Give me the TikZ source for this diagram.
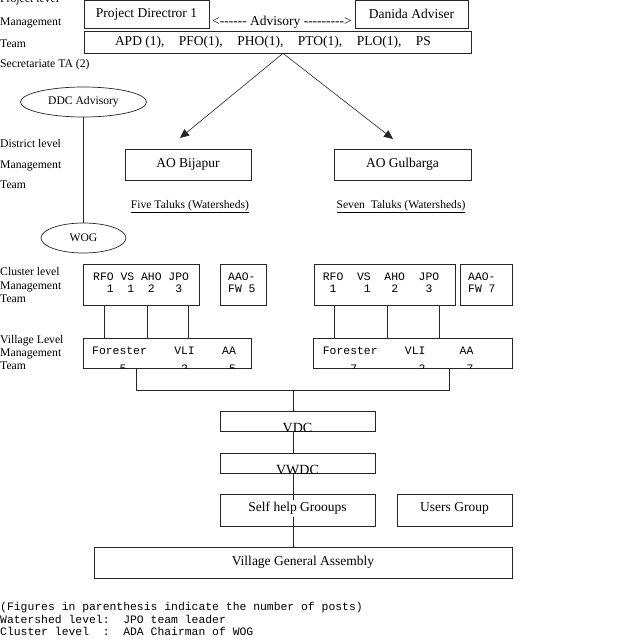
\documentclass[tikz,border=0pt]{standalone}
\usepackage{fontspec}
\setmainfont{Liberation Serif}
\newfontfamily\monofam{Liberation Mono}
\usetikzlibrary{arrows.meta,shapes.geometric}
\begin{document}
\begin{tikzpicture}[x=1pt,y=-1pt,
  box/.style={draw=black!85, line width=0.7pt, inner sep=0pt, font=\fontsize{13.5}{15}\selectfont},
  oval/.style={draw=black!85, line width=0.7pt, ellipse, inner sep=0pt, font=\fontsize{11.6}{13}\selectfont},
  lbl/.style={anchor=base west, inner sep=0pt, font=\fontsize{11.7}{13}\selectfont},
  mono/.style={anchor=base west, inner sep=0pt, font=\monofam\fontsize{11.4}{12.5}\selectfont\frenchspacing},
  btext/.style={anchor=base, inner sep=0pt, font=\fontsize{14}{16}\selectfont},
  conn/.style={draw=black!85, line width=0.7pt},
  arr/.style={draw=black!85, line width=0.6pt, -{Triangle[length=9pt,width=8pt]}},
]
\useasboundingbox (0,0) rectangle (640,640);
\fill[white] (0,0) rectangle (640,640);

% left level labels
\node[lbl] (l1) at (0,2.5) {Project level};
\node[lbl] (l2) at (0,25) {Management};
\node[lbl] (l3) at (0,47) {Team};
\node[lbl] (l4) at (0,67) {Secretariate TA (2)};
\node[lbl] (d1) at (0,147.5) {District level};
\node[lbl] (d2) at (0,168.5) {Management};
\node[lbl] (d3) at (0,188.5) {Team};
\node[lbl] (c1) at (0,275) {Cluster level};
\node[lbl] (c2) at (0,289) {Management};
\node[lbl] (c3) at (0,302) {Team};
\node[lbl] (v1) at (0,343) {Village Level};
\node[lbl] (v2) at (0,356.5) {Management};
\node[lbl] (v3) at (0,369) {Team};

% project level
\node[box, minimum width=125pt, minimum height=27.5pt] (pd) at (146.5,14.25) {Project Directror 1};
\node[box, minimum width=113pt, minimum height=27.5pt] (dan) at (411.5,14.25) {Danida Adviser};
\node[inner sep=0pt, font=\fontsize{13.5}{15}\selectfont] (adv) at (282,22) {<-{}-{}-{}-{}-{}- Advisory -{}-{}-{}-{}-{}-{}-{}-{}->};
\node[box, minimum width=387pt, minimum height=22pt] (team) at (277.5,42)
  {\makebox[316pt]{APD (1),\hfill PFO(1),\hfill PHO(1),\hfill PTO(1),\hfill PLO(1),\hfill PS}\hspace*{9pt}};

% arrows to district level
\coordinate (apex) at (283,0);
\coordinate (tipL) at (180,138);
\coordinate (tipR) at (393,139);
\draw[arr] (team.south -| apex) -- (tipL);
\draw[arr] (team.south -| apex) -- (tipR);

% ellipses
\node[oval, minimum width=126pt, minimum height=30pt] (ddc) at (83.5,102) {DDC Advisory};
\node[oval, minimum width=85pt, minimum height=30pt] (wog) at (83.5,238) {WOG};
\draw[conn] (ddc.south) -- (wog.north);

% district boxes
\node[box, minimum width=126pt, minimum height=31pt] (aob) at (188,164.5) {AO Bijapur};
\node[box, minimum width=137pt, minimum height=31pt] (aog) at (402.5,164.5) {AO Gulbarga};
\node[anchor=base, inner sep=0pt, font=\fontsize{11.6}{13}\selectfont] (five) at (190,208) {\underline{Five Taluks (Watersheds)}};
\node[anchor=base, inner sep=0pt, font=\fontsize{11.6}{13}\selectfont] (seven) at (401,208) {\underline{Seven\ \ Taluks (Watersheds)}};

% cluster boxes
\node[box, minimum width=116pt, minimum height=41pt] (cl1) at (141,284.5) {};
\node[mono] (cl1a) at (93,280.5) {RFO~VS~AHO~JPO};
\node[mono] (cl1b) at (93,292.5) {~~1~~1~~2~~~3};
\node[box, minimum width=46pt, minimum height=41pt] (aao5) at (243,284.5) {};
\node[mono] (aao5a) at (228,280.5) {AAO-};
\node[mono] (aao5b) at (228,292.5) {FW~5};
\node[box, minimum width=141pt, minimum height=41pt] (cl2) at (384.5,284.5) {};
\node[mono] (cl2a) at (322.7,280.5) {RFO~~VS~~AHO~~JPO};
\node[mono] (cl2b) at (322.7,292.5) {~1~~~~1~~~2~~~~3};
\node[box, minimum width=52pt, minimum height=41pt] (aao7) at (486,284.5) {};
\node[mono] (aao7a) at (468,280.5) {AAO-};
\node[mono] (aao7b) at (468,292.5) {FW~7};

% village level boxes
\node[box, minimum width=168pt, minimum height=30pt] (vl1) at (167,353) {};
\node[box, minimum width=199pt, minimum height=30pt] (vl2) at (412.5,353) {};
\begin{scope}
  \clip (vl1.south west) rectangle (vl1.north east);
  \node[mono] (vl1a) at (92,354.5) {Forester~~~~VLI~~~~AA};
  \node[mono] (vl1b) at (92,372.5) {~~~~5~~~~~~~~2~~~~~~5};
\end{scope}
\begin{scope}
  \clip (vl2.south west) rectangle (vl2.north east);
  \node[mono] (vl2a) at (322.7,354.5) {Forester~~~~VLI~~~~~AA};
  \node[mono] (vl2b) at (322.7,372.5) {~~~~7~~~~~~~~~2~~~~~~7};
\end{scope}

% cluster -> village connectors
\coordinate (k1) at (104,0);
\coordinate (k2) at (147,0);
\coordinate (k3) at (188,0);
\coordinate (k4) at (334,0);
\coordinate (k5) at (387,0);
\coordinate (k6) at (439,0);
\foreach \k/\c/\v in {k1/cl1/vl1,k2/cl1/vl1,k3/cl1/vl1,k4/cl2/vl2,k5/cl2/vl2,k6/cl2/vl2}
  \draw[conn] (\c.south -| \k) -- (\v.north -| \k);

% lower chain
\node[box, minimum width=155pt, minimum height=20pt] (vdc) at (297.5,421) {};
\node[box, minimum width=155pt, minimum height=20pt] (vwdc) at (297.5,463) {};
\node[box, minimum width=155pt, minimum height=32pt] (shg) at (297.5,510) {};
\node[box, minimum width=115pt, minimum height=32pt] (ug) at (454.5,510) {};
\node[inner sep=0pt, font=\fontsize{13.5}{15}\selectfont] (ugt) at (454.5,508.5) {Users Group};
\node[box, minimum width=418pt, minimum height=31pt] (vga) at (303,562.5) {Village General Assembly};
\begin{scope}
  \clip (vdc.south west) rectangle (vdc.north east);
  \node[btext] (vdct) at (297.5,432) {VDC};
\end{scope}
\begin{scope}
  \clip (vwdc.south west) rectangle (vwdc.north east);
  \node[btext] (vwdct) at (297.5,474) {VWDC};
\end{scope}

\coordinate (bl) at (136,390);
\coordinate (br) at (449,390);
\coordinate (bm) at (293,390);
\draw[conn] (vl1.south -| bl) -- (bl) -- (br) -- (vl2.south -| br);
\draw[conn] (bm) -- (vdc.north -| bm);
\draw[conn] (vdc.south -| bm) -- (vwdc.north -| bm);
\draw[conn] (vwdc.south -| bm) -- (vga.north -| bm);
\node[fill=white, inner sep=2pt, font=\fontsize{13.5}{15}\selectfont] (shgt) at (297.5,508.5) {Self help Grooups};

% footnotes
\node[mono] (f1) at (0,610.5) {(Figures in parenthesis indicate the number of posts)};
\node[mono] (f2) at (0,623) {Watershed level:~~JPO team leader};
\node[mono] (f3) at (0,635.5) {Cluster level~~:~~ADA Chairman of WOG};
\end{tikzpicture}
\end{document}
